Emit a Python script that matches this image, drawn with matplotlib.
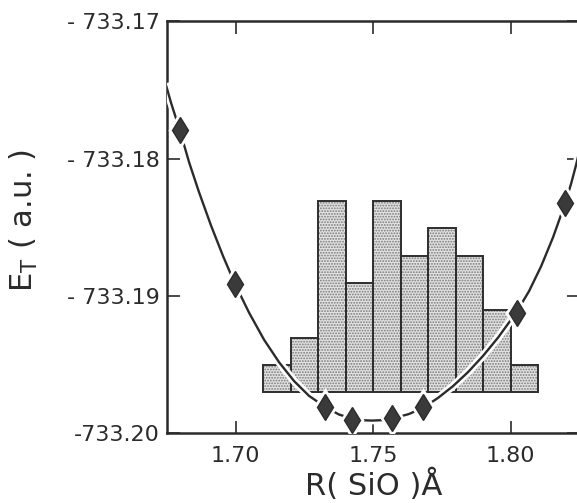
import numpy as np
import matplotlib
matplotlib.use("Agg")
import matplotlib.pyplot as plt
import matplotlib.patheffects as pe

plt.rcParams['font.family'] = ['DejaVu Sans']
plt.rcParams['axes.unicode_minus'] = False
plt.rcParams['hatch.linewidth'] = 0.9

# fitted energy curve E_T(R)
curve_r = [1.67484, 1.67647, 1.67964, 1.68302, 1.68665, 1.69102, 1.69538, 1.69975,
           1.70484, 1.71029, 1.71575, 1.72120, 1.72665, 1.73247, 1.73756, 1.74240,
           1.74665, 1.74956, 1.75320, 1.75756, 1.76302, 1.76811, 1.77356, 1.77902,
           1.78447, 1.78993, 1.79538, 1.80211, 1.80665, 1.81102, 1.81538, 1.81975,
           1.82193, 1.82375, 1.82520]
curve_e = [-733.17477, -733.17592, -733.17790, -733.18024, -733.18243, -733.18486,
           -733.18708, -733.18912, -733.19120, -733.19317, -733.19481, -733.19618,
           -733.19726, -733.19806, -733.19862, -733.19892, -733.19904, -733.19906,
           -733.19903, -733.19889, -733.19858, -733.19813, -733.19741, -733.19655,
           -733.19553, -733.19435, -733.19302, -733.19116, -733.18964, -733.18784,
           -733.18572, -733.18326, -733.18183, -733.18046, -733.17924]

# computed points (diamonds)
pts_r = [1.6796, 1.6998, 1.7325, 1.7424, 1.7567, 1.7681, 1.8021, 1.8198]
pts_e = [-733.1779, -733.1891, -733.1981, -733.1990, -733.1989, -733.1981,
         -733.1912, -733.1832]

# histogram of observed Si-O distances
bin_edges = [1.71, 1.72, 1.73, 1.74, 1.75, 1.76, 1.77, 1.78, 1.79, 1.80, 1.81]
counts = [1, 2, 7, 4, 7, 5, 6, 5, 3, 1]

xticks = [1.70, 1.75, 1.80]
xtick_labels = ['1.70', '1.75', '1.80']
yticks = [-733.20, -733.19, -733.18, -733.17]
ytick_labels = ['-733.20', '- 733.19', '- 733.18', '- 733.17']

fig = plt.figure(figsize=(5.77, 5.03), dpi=100)
ax = fig.add_axes([0.2894, 0.1382, 0.7149, 0.8191])
ax2 = ax.twinx()
ax.set_zorder(ax2.get_zorder() + 1)
ax.patch.set_visible(False)

# histogram (own count scale, hidden)
left = bin_edges[:-1]
w = np.diff(bin_edges)
ax2.bar(left, counts, width=w, align='edge', color='#e2e2e2',
        hatch='......', edgecolor='#7a7a7a', linewidth=0)
ax2.bar(left, counts, width=w, align='edge', fill=False,
        edgecolor='#2e2e2e', linewidth=1.4)
ax2.set_ylim(-1.51, 13.58)
ax2.axis('off')

line_col = '#2b2b2b'
ax.plot(curve_r, curve_e, color=line_col, lw=1.7, zorder=3,
        path_effects=[pe.Stroke(linewidth=5.5, foreground='white'), pe.Normal()])
ax.plot(pts_r, pts_e, ls='none', marker='d', ms=13, mfc='white', mec='white',
        mew=5, zorder=4)
ax.plot(pts_r, pts_e, ls='none', marker='d', ms=13, mfc='#3a3a3a', mec='#2b2b2b',
        mew=1, zorder=5)

ax.set_xlim(1.675, 1.825)
ax.set_ylim(-733.20, -733.17)
ax.set_xticks(xticks)
ax.set_xticklabels(xtick_labels)
ax.set_yticks(yticks)
ax.set_yticklabels(ytick_labels)
ax.tick_params(direction='in', length=9, width=1.2, top=True, right=True,
               labelsize=16, colors='#2b2b2b')
ax.tick_params(axis='x', pad=9)
ax.tick_params(axis='y', pad=5)
for s in ax.spines.values():
    s.set_linewidth(1.8)
    s.set_color('#2b2b2b')

ax.set_xlabel('R( SiO )Å', fontsize=22, color='#2b2b2b')
ax.xaxis.set_label_coords(0.502, -0.085)
ax.set_ylabel(r'$\mathregular{E_T}$ ( a.u. )', fontsize=22, color='#2b2b2b',
              va='center')
ax.yaxis.set_label_coords(-0.347, 0.518)

fig.savefig('out.png', dpi=100)
